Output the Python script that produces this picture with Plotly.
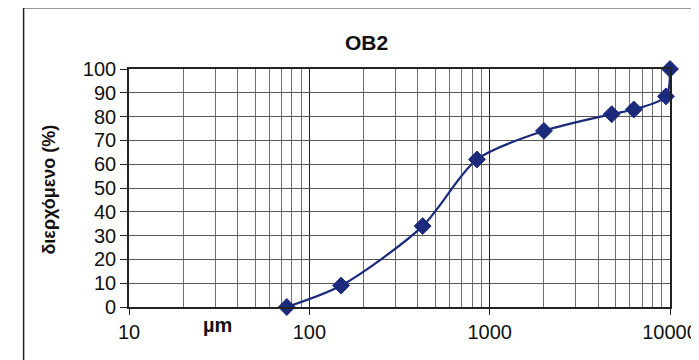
import plotly.graph_objects as go

sizes_um = [75, 150, 425, 850, 2000, 4750, 6300, 9500, 10000]
passing_pct = [0, 9, 34, 62, 74, 81, 83, 88.5, 100]

x_tickvals = [10, 100, 1000, 10000]
x_ticktext = ["10", "100", "1000", "10000"]
y_tickvals = list(range(0, 101, 10))

# the page body adds an 8px offset, so the figure is laid out 8px up/left
OFF = 8
W, H = 699 - OFF, 360 - OFF
L, R, T, B = 128.5 - OFF, 29, 68.5 - OFF, 52.5
pw, ph = W - L - R, H - T - B


def px(x):
    return (x - OFF - L) / pw


def py(y):
    return (H - B - (y - OFF)) / ph


navy = "#1c2a7c"
font = "Liberation Sans, Arial, sans-serif"

fig = go.Figure()
fig.add_trace(go.Scatter(
    x=sizes_um, y=passing_pct, mode="lines+markers",
    line=dict(color=navy, width=2.2, shape="spline", smoothing=0.8),
    marker=dict(symbol="diamond", size=13, color=navy, line=dict(color=navy, width=1)),
    cliponaxis=False, showlegend=False,
))

fig.update_xaxes(
    type="log", range=[1, 4], tickvals=x_tickvals, ticktext=x_ticktext,
    showgrid=True, gridcolor="#222222", gridwidth=1.4,
    minor=dict(dtick="D1", showgrid=True, gridcolor="#707070", gridwidth=1, ticks=""),
    ticks="outside", ticklen=6, tickcolor="#222", tickwidth=1.2,
    showline=True, linecolor="#222", linewidth=1.6, mirror=True,
    tickfont=dict(family=font, size=20, color="#111"), zeroline=False,
    automargin=False,
)
fig.update_yaxes(
    range=[0, 100], tickvals=y_tickvals,
    showgrid=True, gridcolor="#555555", gridwidth=1.2,
    ticks="outside", ticklen=7, tickcolor="#222", tickwidth=1.2,
    showline=True, linecolor="#222", linewidth=1.6, mirror=True,
    tickfont=dict(family=font, size=20, color="#111"), zeroline=False,
    automargin=False,
)

# y-axis title placed as rotated annotation
fig.add_annotation(text="<b>διερχόμενο (%)</b>", xref="paper", yref="paper",
                   x=px(48), y=py(190), xanchor="center", yanchor="middle",
                   showarrow=False, textangle=-90,
                   font=dict(family=font, size=18, color="#111"))

# outer chart frame (left and top edges visible)
fig.add_shape(type="line", xref="paper", yref="paper", x0=px(23), x1=px(23), y0=-1, y1=py(7),
              line=dict(color="#222", width=1.5))
fig.add_shape(type="line", xref="paper", yref="paper", x0=px(23), x1=2, y0=py(7), y1=py(7),
              line=dict(color="#333", width=1.5))

fig.add_annotation(text="<b>OB2</b>", xref="paper", yref="paper",
                   x=px(366.5), y=py(41.5), xanchor="center", yanchor="middle",
                   showarrow=False, font=dict(family=font, size=21, color="#111"))
fig.add_annotation(text="<b>µm</b>", xref="paper", yref="paper",
                   x=px(217), y=py(326), xanchor="center", yanchor="middle",
                   showarrow=False, font=dict(family=font, size=20, color="#111"))

fig.update_layout(
    width=W, height=H, margin=dict(l=L, r=R, t=T, b=B),
    paper_bgcolor="white", plot_bgcolor="white",
)
fig.write_html("out.html")
